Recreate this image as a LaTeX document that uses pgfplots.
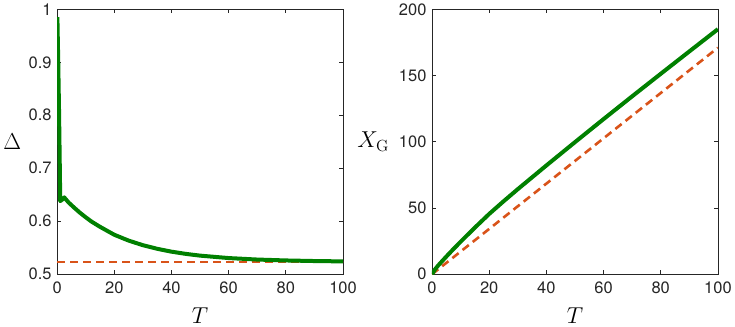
\documentclass[border=0pt]{standalone}
\usepackage{fix-cm}
\usepackage[no-math]{fontspec}
\setmainfont{TeX Gyre Heros}
\usepackage{pgfplots}
\pgfplotsset{compat=1.18}
\definecolor{dgreen}{HTML}{008000}
\definecolor{morange}{HTML}{D95319}
\definecolor{axgray}{HTML}{262626}

\pgfplotsset{mystyle/.style={
  scale only axis, width=286pt, height=265pt,
  xmin=0, xmax=100, xtick={0,20,...,100},
  tick align=inside, major tick length=4pt,
  axis line style={axgray, line width=0.7pt},
  every tick/.style={axgray, line width=0.7pt},
  tick label style={font=\fontsize{16.5}{18}\selectfont, text=axgray},
  /pgf/number format/assume math mode=true,
  xticklabel style={yshift=-4pt},
  yticklabel style={xshift=-2pt},
  label style={font=\fontsize{23}{24}\selectfont},
  xlabel={$T$},
  xlabel style={at={(axis description cs:0.5,-0.155)}, anchor=center},
  ylabel style={rotate=-90, anchor=center},
  clip=true,
}}

\begin{document}
\begin{tikzpicture}
\begin{axis}[mystyle, at={(57pt,0pt)}, anchor=south west,
  ymin=0.5, ymax=1, ytick={0.5,0.6,...,1},
  yticklabels={0.5,0.6,0.7,0.8,0.9,1},
  ylabel={$\Delta$},
  ylabel style={at={(axis description cs:-0.157,0.5)}}]
\addplot[morange, line width=2.6pt, dash pattern=on 8pt off 5pt] coordinates {(0,0.523) (100,0.523)};
\addplot[dgreen, line width=4pt, line join=round] coordinates {
(0.1,0.985) (0.4,0.9) (0.7,0.8) (0.95,0.7) (1.1,0.638) (1.6,0.64) (2.5,0.645)
(4,0.6355) (6,0.6255) (8,0.616) (10,0.6075) (12,0.5995) (15,0.5895)
(20,0.5745) (25,0.5635) (30,0.5548) (35,0.548) (40,0.5426) (45,0.5384)
(50,0.5351) (60,0.5305) (70,0.5277) (80,0.526) (90,0.5249) (100,0.5242)};
\end{axis}
\begin{axis}[mystyle, at={(432pt,0pt)}, anchor=south west,
  ymin=0, ymax=200, ytick={0,50,...,200},
  ylabel={$X_{\mathrm{G}}$},
  ylabel style={at={(axis description cs:-0.206,0.5)}}]
\addplot[morange, line width=2.6pt, dash pattern=on 8pt off 5pt] coordinates {(0,0) (100,171)};
\addplot[dgreen, line width=4pt, line join=round] coordinates {
(0,0) (1,3.5) (2,6.2) (3,8.6) (5,13.3) (7.5,19.0) (10,24.5)
(15,35.2) (20,45.5) (25,55.0) (30,64.2) (40,82.1) (50,99.7) (60,117.1)
(70,134.3) (80,151.3) (90,168.2) (100,185)};
\end{axis}
\end{tikzpicture}
\end{document}
